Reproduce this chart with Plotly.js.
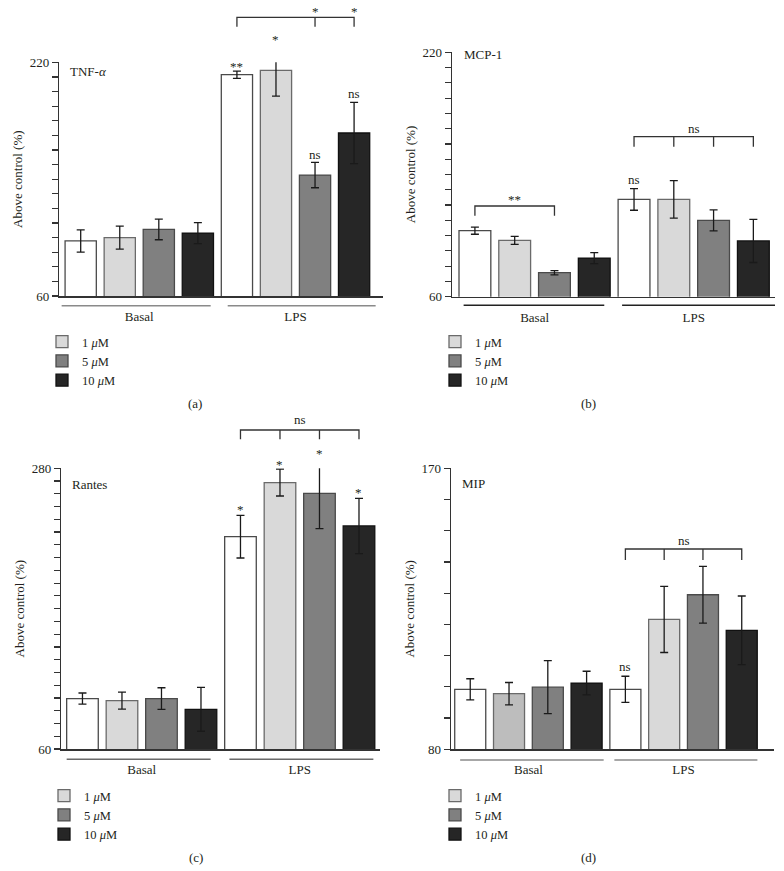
<!DOCTYPE html>
<html>
<head>
<meta charset="utf-8">
<script src="https://cdn.plot.ly/plotly-3.0.1.min.js"></script>
<style>html,body{margin:0;padding:0;background:#fff;}#chart{width:784px;height:871px;}</style>
</head>
<body>
<div id="chart"></div>
<script>
// ---------------- data ----------------
const groups = ['Basal', 'LPS'];
const seriesNames = ['Control', '1 <i>μ</i>M', '5 <i>μ</i>M', '10 <i>μ</i>M'];

// (a) TNF-α
const tnfBasal = [97.7, 100.0, 105.6, 103.1];
const tnfBasalErr = [7.6, 7.9, 7.1, 7.2];
const tnfLPS = [211.5, 214.5, 142.8, 171.6];
const tnfLPSErr = [2.5, 17.7, 8.7, 21.0];

// (b) MCP-1
const mcpBasal = [103.2, 96.9, 75.7, 85.3];
const mcpBasalErr = [2.3, 2.6, 1.4, 3.6];
const mcpLPS = [123.7, 123.7, 110.0, 96.5];
const mcpLPSErr = [7.1, 12.3, 6.9, 14.1];

// (c) Rantes
const rantesBasal = [99.5, 97.9, 99.5, 91.1];
const rantesBasalErr = [4.4, 6.7, 8.5, 17.2];
const rantesLPS = [226.4, 268.8, 260.4, 234.8];
const rantesLPSErr = [16.7, 10.5, 27.7, 21.6];

// (d) MIP
const mipBasal = [99.2, 97.8, 99.9, 101.2];
const mipBasalErr = [3.4, 3.6, 8.5, 3.8];
const mipLPS = [99.2, 121.6, 129.5, 118.1];
const mipLPSErr = [4.2, 10.6, 9.1, 11.0];

// y tick labels (axis ends)
const tnfTicks = [60, 220];
const mcpTicks = [60, 220];
const rantesTicks = [60, 280];
const mipTicks = [80, 170];

// ---------------- styling ----------------
const W = 784, H = 871;
const FONT = 'Liberation Serif, DejaVu Serif, Times New Roman, serif';
const TXT = '#231f20';
const AX = '#333333';
const fills = ['#ffffff', '#d9d9d9', '#808080', '#262626'];
const outlines = ['#4a4a4a', '#6a6a6a', '#4a4a4a', '#111111'];
const px = v => v / W;
const py = v => 1 - v / H;
const STAR = '*\uFE0E';
const stars = n => Array(n).fill(STAR).join('');

const panels = [
  {key: '', name: 'TNF-<i>α</i>', basal: tnfBasal, basalErr: tnfBasalErr, lps: tnfLPS, lpsErr: tnfLPSErr, ticks: tnfTicks,
   dom: {x0: 59.3, x1: 383.3, yTop: 62.3, yBot: 296}, xr: [-0.512, 1.562], legend: 'legend',
   label: {x: 68, y: 71.7}, under: {y: 305.7, color: '#8a8a8a', basal: [-0.497, 0.457], lps: [0.566, 1.513]},
   caption: {t: '(a)', x: 195, y: 403}, leg: {x: 42, y: 327}},
  {key: '2', name: 'MCP-1', basal: mcpBasal, basalErr: mcpBasalErr, lps: mcpLPS, lpsErr: mcpLPSErr, ticks: mcpTicks,
   dom: {x0: 452, x1: 775, yTop: 52.3, yBot: 296.7}, xr: [-0.519, 1.511], legend: 'legend2',
   label: {x: 462, y: 55}, under: {y: 305.3, color: '#222222', basal: [-0.446, 0.438], lps: [0.55, 1.511]},
   caption: {t: '(b)', x: 588, y: 403}, leg: {x: 435, y: 327}},
  {key: '3', name: 'Rantes', basal: rantesBasal, basalErr: rantesBasalErr, lps: rantesLPS, lpsErr: rantesLPSErr, ticks: rantesTicks,
   dom: {x0: 61.3, x1: 380, yTop: 468.3, yBot: 749}, xr: [-0.509, 1.508], legend: 'legend3',
   label: {x: 70, y: 484}, under: {y: 759.3, color: '#6a6a6a', basal: [-0.475, 0.436], lps: [0.555, 1.466]},
   caption: {t: '(c)', x: 196, y: 857}, leg: {x: 44, y: 781}},
  {key: '4', name: 'MIP', basal: mipBasal, basalErr: mipBasalErr, lps: mipLPS, lpsErr: mipLPSErr, ticks: mipTicks,
   dom: {x0: 451, x1: 773.7, yTop: 468.3, yBot: 749.3}, xr: [-0.499, 1.581], legend: 'legend4',
   label: {x: 460, y: 483.3}, under: {y: 760, color: '#8a8a8a', basal: [-0.44, 0.485], lps: [0.554, 1.476]},
   caption: {t: '(d)', x: 588, y: 857}, leg: {x: 435, y: 781}}
];

// significance marks: bar index -> text, pixel y of text centre
const barPos = (g, i) => g + (i - 1.5) * 0.25;
const sigMarks = [
  [{g: 1, i: 0, t: stars(2), y: 67}, {g: 1, i: 1, t: STAR, y: 39}, {g: 1, i: 2, t: 'ns', y: 154}, {g: 1, i: 3, t: 'ns', y: 93}],
  [{g: 1, i: 0, t: 'ns', y: 179}],
  [{g: 1, i: 0, t: STAR, y: 510}, {g: 1, i: 1, t: STAR, y: 464}, {g: 1, i: 2, t: STAR, y: 453}, {g: 1, i: 3, t: STAR, y: 492}],
  [{g: 1, i: 0, t: 'ns', y: 666}]
];
// brackets: feet (group, bar index), top / bottom pixel y, labels
const brackets = [
  [{feet: [[1, 0], [1, 2], [1, 3]], top: 17.3, bot: 26.7, labels: [{at: [1, 2], t: STAR}, {at: [1, 3], t: STAR}], ly: 12}],
  [{feet: [[0, 0], [0, 2]], top: 206, bot: 215.7, labels: [{mid: true, t: stars(2)}], ly: 200},
   {feet: [[1, 0], [1, 1], [1, 2], [1, 3]], top: 136.7, bot: 146.7, labels: [{mid: true, t: 'ns'}], ly: 128}],
  [{feet: [[1, 0], [1, 1], [1, 2], [1, 3]], top: 430, bot: 439.3, labels: [{mid: true, t: 'ns'}], ly: 420}],
  [{feet: [[1, 0], [1, 1], [1, 2], [1, 3]], top: 549, bot: 560, labels: [{mid: true, t: 'ns'}], ly: 540}]
];

const data = [];
const layout = {
  width: W, height: H, margin: {l: 0, r: 0, t: 0, b: 0},
  paper_bgcolor: '#ffffff', plot_bgcolor: 'rgba(0,0,0,0)',
  barmode: 'group', bargap: 0, bargroupgap: 0.2,
  font: {family: FONT, size: 13, color: TXT},
  shapes: [], annotations: []
};

panels.forEach((p, pi) => {
  const xa = 'x' + p.key, ya = 'y' + p.key;
  for (let i = 0; i < 4; i++) {
    let xs = groups.slice();
    let ys = [p.basal[i], p.lps[i]];
    let es = [p.basalErr[i], p.lpsErr[i]];
    let colors = fills[i];
    if (pi === 3 && i === 1) {
      // basal bar drawn a shade darker in the original; LPS listed first so the legend keeps the light swatch
      xs = xs.reverse(); ys = ys.reverse(); es = es.reverse();
      colors = [fills[1], '#bdbdbd'];
    }
    data.push({
      type: 'bar', x: xs, y: ys,
      name: seriesNames[i], xaxis: xa, yaxis: ya, legend: p.legend,
      showlegend: i > 0,
      marker: {color: colors, line: {color: outlines[i], width: 1.3}},
      error_y: {type: 'data', array: es, visible: true,
        color: '#1a1a1a', thickness: 1.3, width: 4},
      hoverinfo: 'y'
    });
  }
  const xname = 'xaxis' + p.key, yname = 'yaxis' + p.key;
  layout[xname] = {
    domain: [px(p.dom.x0), px(p.dom.x1)], anchor: ya, type: 'category',
    categoryorder: 'array', categoryarray: groups,
    range: p.xr, showline: true, linecolor: AX, linewidth: 1.5, ticks: '',
    showgrid: false, zeroline: false, tickfont: {family: FONT, size: 13, color: TXT},
    ticklabelstandoff: 8, fixedrange: true
  };
  const ymin = p.ticks[0], ymax = p.ticks[1];
  layout[yname] = {
    domain: [py(p.dom.yBot), py(p.dom.yTop)], anchor: xa, range: [ymin, ymax],
    tickmode: 'array', tickvals: p.ticks, ticktext: p.ticks.map(String),
    ticks: 'outside', ticklen: 6, tickwidth: 1.2, tickcolor: AX,
    minor: {tick0: ymin, dtick: 10, ticks: 'outside', ticklen: 6, tickwidth: 1.2, tickcolor: AX, showgrid: false},
    showline: true, linecolor: AX, linewidth: 1.5, showgrid: false, zeroline: false,
    tickfont: {family: FONT, size: 13, color: TXT},
    title: {text: 'Above control (%)', font: {family: FONT, size: 13, color: TXT}, standoff: 4},
    fixedrange: true
  };
  layout[p.legend] = {
    x: px(p.leg.x), y: py(p.leg.y), xanchor: 'left', yanchor: 'top',
    bgcolor: 'rgba(0,0,0,0)', borderwidth: 0, font: {family: FONT, size: 12.5, color: TXT},
    traceorder: 'normal', itemclick: false, itemdoubleclick: false, tracegroupgap: 0
  };
  // panel label
  layout.annotations.push({xref: 'paper', yref: 'paper', x: px(p.label.x), y: py(p.label.y),
    xanchor: 'left', yanchor: 'middle', text: p.name, showarrow: false,
    font: {family: FONT, size: 13, color: TXT}});
  // caption
  layout.annotations.push({xref: 'paper', yref: 'paper', x: px(p.caption.x), y: py(p.caption.y),
    xanchor: 'center', yanchor: 'middle', text: p.caption.t, showarrow: false,
    font: {family: FONT, size: 13, color: TXT}});
  // group underlines
  [p.under.basal, p.under.lps].forEach(seg => {
    layout.shapes.push({type: 'line', xref: xa, yref: 'paper', x0: seg[0], x1: seg[1],
      y0: py(p.under.y), y1: py(p.under.y), line: {color: p.under.color, width: 1.5}});
  });
  // significance over bars
  sigMarks[pi].forEach(m => {
    layout.annotations.push({xref: xa, yref: 'paper', x: barPos(m.g, m.i), y: py(m.y),
      xanchor: 'center', yanchor: 'middle', text: m.t, showarrow: false,
      font: {family: FONT, size: 13, color: TXT}});
  });
  // brackets
  brackets[pi].forEach(b => {
    const fx = b.feet.map(f => barPos(f[0], f[1]));
    const yt = py(b.top), yb = py(b.bot);
    let path = `M${fx[0]},${yb} L${fx[0]},${yt} L${fx[fx.length - 1]},${yt} L${fx[fx.length - 1]},${yb}`;
    for (let k = 1; k < fx.length - 1; k++) path += ` M${fx[k]},${yt} L${fx[k]},${yb}`;
    layout.shapes.push({type: 'path', xref: xa, yref: 'paper', path: path,
      line: {color: '#333333', width: 1.3}});
    b.labels.forEach(l => {
      const lx = l.mid ? (fx[0] + fx[fx.length - 1]) / 2 : barPos(l.at[0], l.at[1]);
      layout.annotations.push({xref: xa, yref: 'paper', x: lx, y: py(b.ly),
        xanchor: 'center', yanchor: 'middle', text: l.t, showarrow: false,
        font: {family: FONT, size: 13, color: TXT}});
    });
  });
});

Plotly.newPlot('chart', data, layout, {displayModeBar: false, staticPlot: true});
</script>
</body>
</html>
